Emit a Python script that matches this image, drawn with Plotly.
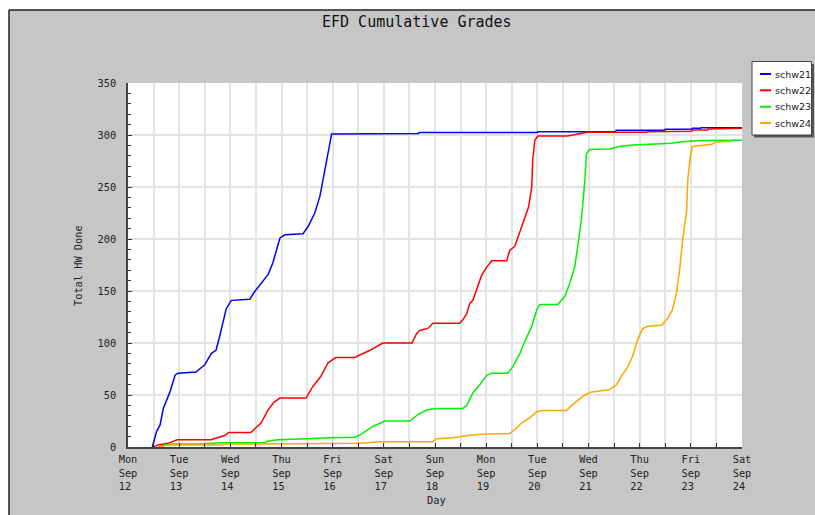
import pandas as pd
import plotly.graph_objects as go

# ---------------- data (days since Mon 2011-09-12 00:00, cumulative count) ----------------
start = pd.Timestamp("2011-09-12")

schw21_days = [0.475, 0.56, 0.625, 0.69, 0.82, 0.92, 0.98, 1.33, 1.40, 1.50, 1.63, 1.72, 1.79, 1.86, 1.92, 2.02,
               2.38, 2.47, 2.58, 2.67, 2.74, 2.83, 2.90, 2.97, 3.07, 3.42, 3.52, 3.65, 3.75, 3.81, 3.88, 3.95,
               3.98, 5.68, 5.69, 8.00, 8.01, 9.53, 9.54, 10.49, 10.50, 11.02, 11.03, 11.19, 11.20, 12.0]
schw21_vals = [0, 15, 21, 37, 53, 69, 71, 72, 75, 79, 90, 93, 106, 122, 133, 141,
               142, 149, 156, 161, 166, 177, 189, 201, 204, 205, 212, 225, 241, 257, 276, 295,
               301, 301.5, 302.5, 302.5, 303.2, 303.2, 304.5, 304.5, 305.5, 305.5, 306.4, 306.4, 307, 307]

schw22_days = [0.49, 0.59, 0.78, 0.86, 0.96, 1.62, 1.76, 1.89, 1.97, 2.40, 2.60, 2.73, 2.85, 2.97, 3.48, 3.61,
               3.77, 3.91, 4.06, 4.43, 4.49, 4.73, 4.98, 5.55, 5.64, 5.70, 5.86, 5.96, 6.48, 6.54, 6.62, 6.68,
               6.74, 6.81, 6.91, 7.01, 7.11, 7.40, 7.46, 7.56, 7.66, 7.75, 7.83, 7.89, 7.91, 7.95, 8.01, 8.59,
               8.93, 8.98, 10.14, 10.15, 11.02, 11.03, 11.33, 11.34, 12.0]
schw22_vals = [0, 2, 3.5, 5, 7, 7, 9, 11, 14, 14, 23, 35, 43, 47, 47, 58,
               68, 81, 86, 86, 87.5, 93, 100, 100, 109, 112, 114, 119, 119, 122, 128, 138,
               141, 151, 165, 173, 179, 179, 189, 193, 207, 218, 231, 250, 276, 295, 299, 299,
               301.6, 302.6, 302.6, 303.2, 303.6, 304.8, 304.8, 305.8, 306.6]

schw23_days = [0.59, 0.72, 0.88, 1.41, 1.84, 2.68, 2.72, 2.93, 3.48, 3.95, 4.43, 4.53, 4.67, 4.79, 5.02, 5.51,
               5.66, 5.83, 6.03, 6.54, 6.62, 6.74, 6.88, 7.01, 7.11, 7.42, 7.52, 7.66, 7.75, 7.89, 7.99, 8.05,
               8.40, 8.54, 8.63, 8.73, 8.79, 8.86, 8.93, 8.96, 9.02, 9.41, 9.61, 9.86, 10.62, 10.84, 11.17, 12.0]
schw23_vals = [0, 2, 3, 3, 4, 4, 5.5, 7, 8, 9, 9.3, 11.5, 16, 20, 25, 25,
               31, 35.6, 37, 37, 40, 52, 60, 69, 71, 71, 77, 90, 101, 116, 132, 137,
               137, 145, 157, 173, 193, 218, 257, 282, 286, 286.5, 289, 290.4, 292, 293.6, 294.6, 295]

schw24_days = [0.63, 0.76, 1.84, 1.88, 2.64, 3.95, 4.47, 4.67, 4.92, 5.96, 6.03, 6.35, 6.72, 7.01, 7.46, 7.59,
               7.69, 7.85, 7.99, 8.09, 8.57, 8.67, 8.79, 8.93, 9.06, 9.41, 9.55, 9.64, 9.77, 9.86, 9.96, 10.06,
               10.16, 10.43, 10.55, 10.64, 10.72, 10.78, 10.84, 10.92, 10.94, 10.99, 11.03, 11.17, 11.41, 11.47,
               11.81]
schw24_vals = [0, 2, 2, 3, 3, 3, 3.5, 4, 5, 5, 8, 9, 11.5, 12.5, 13, 18,
               23, 28, 34, 35, 35, 40, 45, 50, 53, 55, 60, 68, 77, 87, 103, 114,
               116, 117, 124, 132, 148, 170, 199, 228, 257, 279, 289, 290, 291, 293,
               294]

series_names = ["schw21", "schw22", "schw23", "schw24"]
series_days = [schw21_days, schw22_days, schw23_days, schw24_days]
series_vals = [schw21_vals, schw22_vals, schw23_vals, schw24_vals]
series_colors = ["#0000ff", "#ff0000", "#00f000", "#ffa500"]

tick_weekdays = ["Mon", "Tue", "Wed", "Thu", "Fri", "Sat", "Sun", "Mon", "Tue", "Wed", "Thu", "Fri", "Sat"]
tick_month = "Sep"
tick_daynums = ["12", "13", "14", "15", "16", "17", "18", "19", "20", "21", "22", "23", "24"]

title_text = "EFD Cumulative Grades"
x_title = "Day"
y_title = "Total HW Done"

# ---------------- layout geometry (screen pixels) ----------------
FIG_W, FIG_H = 815, 515
L, R, T, B = 128, 742, 83, 447          # plot area
PW, PH = R - L, B - T


def px(x):
    return (x - L) / PW


def py(y):
    return (B - y) / PH


MONO = "DejaVu Sans Mono"
BG = "#c6c6c6"

fig = go.Figure()
for name, d, v, c in zip(series_names, series_days, series_vals, series_colors):
    t = [start + pd.Timedelta(days=x) for x in d]
    fig.add_trace(go.Scatter(x=t, y=v, mode="lines", name=name,
                             line=dict(color=c, width=1.5), showlegend=False))

tickvals = [start + pd.Timedelta(days=i) for i in range(len(tick_weekdays))]
ticktext = [f"{w}<br>{tick_month}<br>{n}\u00a0" for w, n in zip(tick_weekdays, tick_daynums)]

grid = "#e3e3e3"
fig.update_xaxes(
    type="date",
    range=[tickvals[0], tickvals[-1]],
    tickvals=tickvals, ticktext=ticktext,
    showgrid=True, gridcolor=grid, gridwidth=1.5,
    ticks="inside", ticklen=4, tickcolor="#333",
    showline=True, linecolor="#444", linewidth=1.5,
    tickfont=dict(family=MONO, size=10.3, color="#222"),
    ticklabelstandoff=2,
    minor=dict(dtick=43200000, tick0=tickvals[0], showgrid=True, gridcolor=grid, gridwidth=1.5,
               ticks="inside", ticklen=4, tickcolor="#333"),
    zeroline=False,
)
fig.update_yaxes(
    range=[0, 350], dtick=50, tick0=0,
    showgrid=True, gridcolor=grid, gridwidth=1.5,
    ticks="inside", ticklen=4, tickcolor="#333",
    showline=True, linecolor="#444", linewidth=1.5,
    tickfont=dict(family=MONO, size=10.3, color="#222"),
    ticklabelstandoff=8,
    minor=dict(dtick=10, ticks="inside", ticklen=3, tickcolor="#333", showgrid=False),
    zeroline=False,
)

shapes = [
    # white page strips outside the grey frame, and frame lines
    dict(type="rect", xref="paper", yref="paper", x0=px(-5), x1=px(830), y0=py(-5), y1=py(10),
         fillcolor="white", line=dict(width=0)),
    dict(type="rect", xref="paper", yref="paper", x0=px(-5), x1=px(9), y0=py(-5), y1=py(530),
         fillcolor="white", line=dict(width=0)),
    dict(type="line", xref="paper", yref="paper", x0=px(9), x1=px(830), y0=py(10), y1=py(10),
         line=dict(color="#222", width=1.5)),
    dict(type="line", xref="paper", yref="paper", x0=px(9), x1=px(9), y0=py(10), y1=py(530),
         line=dict(color="#222", width=1.5)),
    # legend shadow and box
    dict(type="rect", xref="paper", yref="paper", x0=px(754), x1=px(814), y0=py(64), y1=py(137.5),
         fillcolor="#555", line=dict(width=0)),
    dict(type="rect", xref="paper", yref="paper", x0=px(752), x1=px(811.5), y0=py(61.5), y1=py(135),
         fillcolor="white", line=dict(color="#444", width=1)),
]

annotations = [
    dict(text=title_text, x=px(417), y=py(22), xref="paper", yref="paper", showarrow=False,
         xanchor="center", yanchor="middle", font=dict(family=MONO, size=15, color="#111")),
    dict(text=x_title, x=px(436), y=py(500), xref="paper", yref="paper", showarrow=False,
         xanchor="center", yanchor="middle", font=dict(family=MONO, size=10.3, color="#222")),
    dict(text=y_title, x=px(78), y=py(266), xref="paper", yref="paper", showarrow=False, textangle=-90,
         xanchor="center", yanchor="middle", font=dict(family=MONO, size=10.3, color="#222")),
]

leg_y = [74, 90.3, 106.7, 123]
for name, c, yy in zip(series_names, series_colors, leg_y):
    shapes.append(dict(type="line", xref="paper", yref="paper", x0=px(760), x1=px(771), y0=py(yy), y1=py(yy),
                       line=dict(color=c, width=2)))
    annotations.append(dict(text=name, x=px(774), y=py(yy), xref="paper", yref="paper", showarrow=False,
                            xanchor="left", yanchor="middle", borderpad=0,
                            font=dict(family="DejaVu Sans", size=9.5, color="#222")))

fig.update_layout(
    width=FIG_W, height=FIG_H,
    margin=dict(l=L, r=FIG_W - R, t=T, b=FIG_H - B, pad=0),
    paper_bgcolor=BG, plot_bgcolor="white",
    shapes=shapes, annotations=annotations,
    showlegend=False,
)

fig.write_html("out.html", config={"displayModeBar": False},
               post_script="document.body.style.margin='0';document.body.style.overflow='hidden';")
